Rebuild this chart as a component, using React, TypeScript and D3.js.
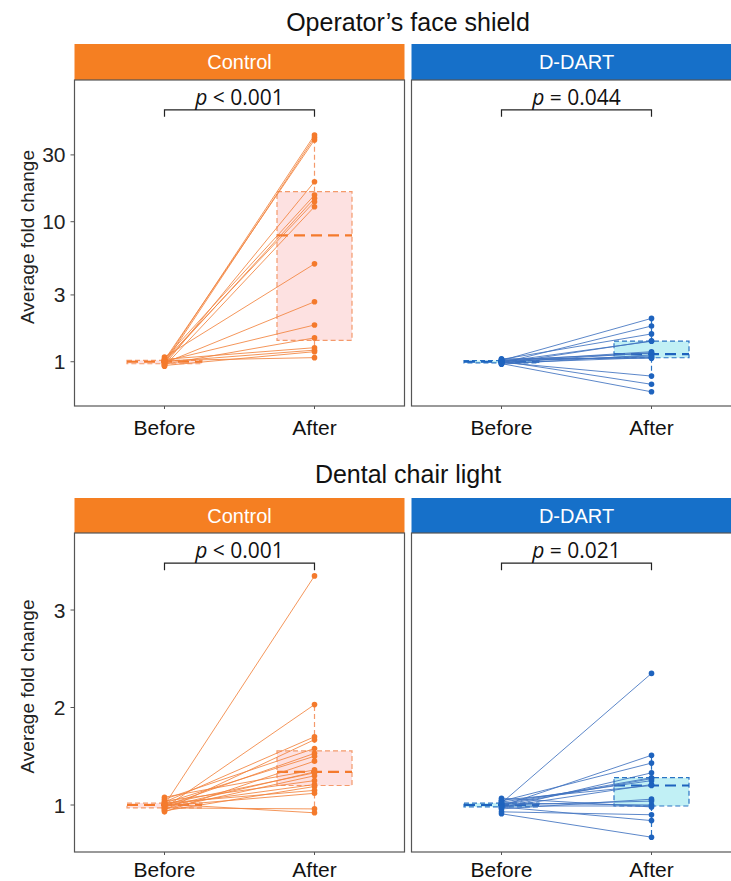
import { useEffect, useRef } from 'react';
import * as d3 from 'd3';

// x categories and facet groups
const conditions = ['Before', 'After'];
const groups = ['Control', 'D-DART'];
const rowTitles = ['Operator’s face shield', 'Dental chair light'];

// Operator's face shield (log scale)
const shieldTicks = [1, 3, 10, 30];
const shieldControlBefore = [1.00, 0.97, 1.03, 0.95, 1.05, 0.99, 1.02, 0.93, 1.08, 0.98, 1.01, 0.96, 1.04, 1.00, 0.94, 1.02];
const shieldControlAfter = [41.6, 40.0, 38.4, 19.3, 15.5, 14.7, 13.9, 12.8, 5.0, 2.68, 1.83, 1.48, 1.26, 1.21, 1.18, 1.07];
const shieldDartBefore = [1.02, 0.98, 1.04, 0.97, 1.00, 1.01, 0.99, 1.03, 0.96, 1.00, 1.02, 0.98, 1.05, 0.99, 1.01, 0.97];
const shieldDartAfter = [2.04, 1.80, 1.58, 1.41, 1.40, 1.18, 1.16, 1.15, 1.12, 1.10, 1.08, 1.07, 1.06, 0.79, 0.69, 0.61];
const shieldPValues = ['< 0.001', '= 0.044'];

// Dental chair light (linear scale)
const lightTicks = [1, 2, 3];
const lightControlBefore = [1.00, 0.97, 1.03, 0.95, 1.06, 0.99, 1.02, 0.93, 1.08, 0.98, 1.01, 0.96, 1.04, 1.00, 0.94, 1.02, 0.99, 0.97, 1.01];
const lightControlAfter = [3.35, 2.03, 1.70, 1.67, 1.58, 1.53, 1.50, 1.45, 1.36, 1.34, 1.33, 1.30, 1.25, 1.21, 1.19, 1.15, 1.12, 0.96, 0.92];
const lightDartBefore = [1.02, 0.99, 1.04, 0.97, 1.01, 1.00, 1.03, 0.98, 1.05, 0.96, 1.00, 1.02, 0.99, 1.07, 0.93, 0.98, 0.91];
const lightDartAfter = [2.35, 1.51, 1.43, 1.33, 1.28, 1.27, 1.25, 1.21, 1.20, 1.06, 1.04, 1.00, 0.99, 0.98, 0.90, 0.84, 0.67];
const lightPValues = ['< 0.001', '= 0.021'];

const stripColors = ['#F57F22', '#1670C9'];
const pointColors = ['#F47A2C', '#1E63BE'];
const lineColors = ['#F2843E', '#3F72C0'];
const boxFills = ['#FCD9D9', '#B2ECF2'];
const boxStrokes = ['#F49A6C', '#2A74C4'];

const FONT = '"Liberation Sans", Arial, sans-serif';
const PFONT = '"Open Sans", sans-serif';

export default function App() {
    const svgRef = useRef<SVGSVGElement>(null);

    useEffect(() => {
        if (!svgRef.current) return;
        const svg = d3.select(svgRef.current);
        svg.selectAll('*').remove();

        const panelX = [74.5, 411.5];
        const panelW = 330;

        const rows = [
            {
                title: rowTitles[0], titleY: 31, stripTop: 44, top: 80, bottom: 406, labelY: 435,
                log: true, domain: [0.483, 102.8], ticks: shieldTicks, bracket: 63,
                data: [[shieldControlBefore, shieldControlAfter], [shieldDartBefore, shieldDartAfter]],
                pv: shieldPValues,
            },
            {
                title: rowTitles[1], titleY: 483, stripTop: 498, top: 533, bottom: 852, labelY: 877,
                log: false, domain: [0.518, 3.79], ticks: lightTicks, bracket: 3.48,
                data: [[lightControlBefore, lightControlAfter], [lightDartBefore, lightDartAfter]],
                pv: lightPValues,
            },
        ];

        rows.forEach((row) => {
            const y = row.log
                ? d3.scaleLog().domain(row.domain).range([row.bottom, row.top])
                : d3.scaleLinear().domain(row.domain).range([row.bottom, row.top]);
            const t = row.log ? Math.log10 : (v: number) => v;
            const inv = row.log ? (v: number) => Math.pow(10, v) : (v: number) => v;

            // row title
            svg.append('text')
                .attr('x', (panelX[0] + panelX[1] + panelW) / 2)
                .attr('y', row.titleY)
                .attr('text-anchor', 'middle')
                .style('font-family', FONT)
                .style('font-size', '25px')
                .style('fill', '#111')
                .text(row.title);

            // y axis title
            svg.append('text')
                .attr('transform', `translate(34,${(row.top + row.bottom) / 2 - 6}) rotate(-90)`)
                .attr('text-anchor', 'middle')
                .style('font-family', FONT)
                .style('font-size', '19px')
                .style('fill', '#222')
                .text('Average fold change');

            // y ticks on the first panel only
            const yAxis = svg.append('g');
            row.ticks.forEach((tk) => {
                yAxis.append('line')
                    .attr('x1', panelX[0] - 4).attr('x2', panelX[0])
                    .attr('y1', y(tk)).attr('y2', y(tk))
                    .attr('stroke', '#555');
                yAxis.append('text')
                    .attr('x', panelX[0] - 9)
                    .attr('y', y(tk))
                    .attr('dy', '0.36em')
                    .attr('text-anchor', 'end')
                    .style('font-family', FONT)
                    .style('font-size', '21px')
                    .style('fill', '#222')
                    .text(tk);
            });

            groups.forEach((grp, gi) => {
                const x0 = panelX[gi];
                const x = d3.scaleLinear().domain([0.4, 2.6]).range([x0, x0 + panelW]);
                const g = svg.append('g');

                // strip
                g.append('rect')
                    .attr('x', x0).attr('y', row.stripTop)
                    .attr('width', panelW).attr('height', row.top - row.stripTop)
                    .attr('fill', stripColors[gi]);
                g.append('text')
                    .attr('x', x0 + panelW / 2)
                    .attr('y', (row.stripTop + row.top) / 2)
                    .attr('dy', '0.36em')
                    .attr('text-anchor', 'middle')
                    .style('font-family', FONT)
                    .style('font-size', '20px')
                    .style('fill', '#fff')
                    .text(grp);

                const [before, after] = row.data[gi];

                // boxplots (quantiles on the plotted scale)
                [before, after].forEach((vals, ci) => {
                    const tv = vals.map(t).sort(d3.ascending);
                    const q1 = d3.quantile(tv, 0.25)!;
                    const med = d3.quantile(tv, 0.5)!;
                    const q3 = d3.quantile(tv, 0.75)!;
                    const iqr = q3 - q1;
                    const hi = d3.max(tv.filter((v) => v <= q3 + 1.5 * iqr))!;
                    const lo = d3.min(tv.filter((v) => v >= q1 - 1.5 * iqr))!;
                    const cx = x(ci + 1);
                    const bx0 = x(ci + 1 - 0.25);
                    const bx1 = x(ci + 1 + 0.25);
                    const bg = g.append('g');
                    bg.append('rect')
                        .attr('x', bx0).attr('y', y(inv(q3)))
                        .attr('width', bx1 - bx0)
                        .attr('height', Math.max(0.5, y(inv(q1)) - y(inv(q3))))
                        .attr('fill', boxFills[gi])
                        .attr('fill-opacity', 0.8)
                        .attr('stroke', boxStrokes[gi])
                        .attr('stroke-width', 1.2)
                        .attr('stroke-dasharray', '5,3');
                    bg.append('line')
                        .attr('x1', cx).attr('x2', cx)
                        .attr('y1', y(inv(q3))).attr('y2', y(inv(hi)))
                        .attr('stroke', boxStrokes[gi]).attr('stroke-width', 1.2)
                        .attr('stroke-dasharray', '5,3');
                    bg.append('line')
                        .attr('x1', cx).attr('x2', cx)
                        .attr('y1', y(inv(q1))).attr('y2', y(inv(lo)))
                        .attr('stroke', boxStrokes[gi]).attr('stroke-width', 1.2)
                        .attr('stroke-dasharray', '5,3');
                    bg.append('line')
                        .attr('x1', bx0).attr('x2', bx1)
                        .attr('y1', y(inv(med))).attr('y2', y(inv(med)))
                        .attr('stroke', pointColors[gi]).attr('stroke-width', 2.2)
                        .attr('stroke-dasharray', '11,6');
                });

                // paired lines
                g.append('g')
                    .selectAll('line')
                    .data(before.map((b, i) => [b, after[i]]))
                    .join('line')
                    .attr('x1', x(1)).attr('x2', x(2))
                    .attr('y1', (d) => y(d[0])).attr('y2', (d) => y(d[1]))
                    .attr('stroke', lineColors[gi])
                    .attr('stroke-width', 1)
                    .attr('stroke-opacity', 0.85);

                // points
                [before, after].forEach((vals, ci) => {
                    g.append('g')
                        .selectAll('circle')
                        .data(vals)
                        .join('circle')
                        .attr('cx', x(ci + 1))
                        .attr('cy', (d) => y(d))
                        .attr('r', 2.8)
                        .attr('fill', pointColors[gi]);
                });

                // significance bracket
                const by = y(row.bracket);
                g.append('path')
                    .attr('d', `M${x(1)},${by + 7}V${by}H${x(2)}V${by + 7}`)
                    .attr('fill', 'none')
                    .attr('stroke', '#222')
                    .attr('stroke-width', 1.2);
                const pt = g.append('text')
                    .attr('x', (x(1) + x(2)) / 2)
                    .attr('y', by - 5)
                    .attr('text-anchor', 'middle')
                    .style('font-family', PFONT)
                    .style('font-size', '21px')
                    .style('fill', '#111');
                pt.append('tspan').style('font-style', 'italic').text('p');
                pt.append('tspan').text(' ' + row.pv[gi]);

                // panel border
                g.append('rect')
                    .attr('x', x0).attr('y', row.top)
                    .attr('width', panelW).attr('height', row.bottom - row.top)
                    .attr('fill', 'none')
                    .attr('stroke', '#555')
                    .attr('stroke-width', 1.2);

                // x axis
                conditions.forEach((c, ci) => {
                    g.append('line')
                        .attr('x1', x(ci + 1)).attr('x2', x(ci + 1))
                        .attr('y1', row.bottom).attr('y2', row.bottom + 3)
                        .attr('stroke', '#555');
                    g.append('text')
                        .attr('x', x(ci + 1))
                        .attr('y', row.labelY)
                        .attr('text-anchor', 'middle')
                        .style('font-family', FONT)
                        .style('font-size', '21px')
                        .style('fill', '#111')
                        .text(c);
                });
            });
        });
    }, []);

    return (
        <svg
            ref={svgRef}
            width={731}
            height={881}
            style={{ position: 'absolute', left: 0, top: 0, background: '#fff' }}
        />
    );
}
